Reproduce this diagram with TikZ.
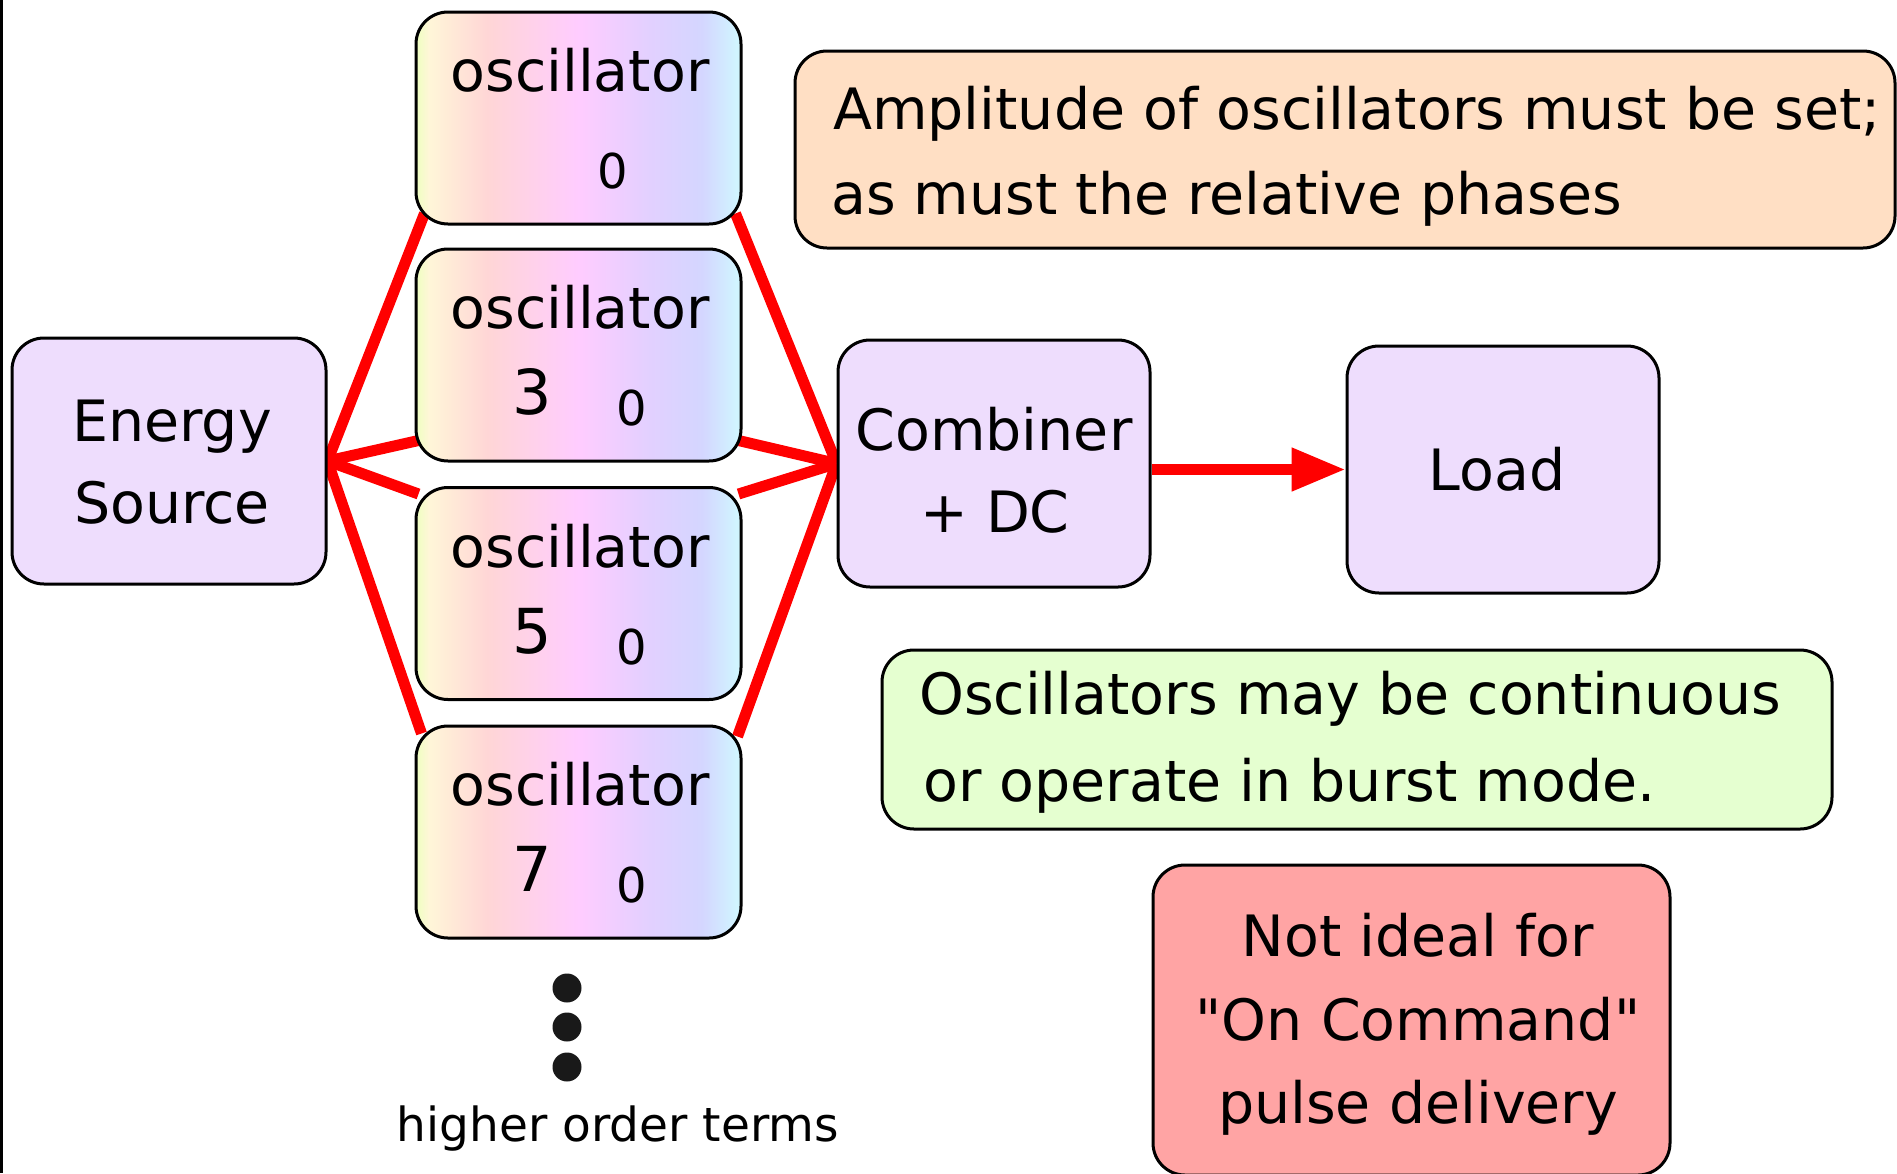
\documentclass[tikz,border=0pt]{standalone}
\usepackage{fontspec}
\setmainfont{DejaVu Sans}
\newfontfamily\straightq{DejaVu Sans}[Ligatures=TeXOff]
\usetikzlibrary{arrows.meta,backgrounds,calc}

% fills
\definecolor{lav}{HTML}{EEDDFD}
\definecolor{peach}{HTML}{FFDFC4}
\definecolor{mint}{HTML}{E5FFD0}
\definecolor{rose}{HTML}{FFA4A4}
\definecolor{linkred}{HTML}{FF0000}
% rainbow fill of the oscillator boxes
\definecolor{oscA}{HTML}{EEFFC0}
\definecolor{oscB}{HTML}{FFF6D8}
\definecolor{oscC}{HTML}{FFD6D6}
\definecolor{oscD}{HTML}{FFCCFF}
\definecolor{oscE}{HTML}{E2D0FF}
\definecolor{oscF}{HTML}{D4D6FF}
\definecolor{oscG}{HTML}{D0F8FF}
\pgfdeclarehorizontalshading{oscfill}{100bp}{%
  color(0bp)=(oscA); color(25bp)=(oscA); color(27bp)=(oscB);
  color(36bp)=(oscC); color(50bp)=(oscD); color(61bp)=(oscE);
  color(69bp)=(oscF); color(75bp)=(oscG); color(100bp)=(oscG)}

\tikzset{
  x=1pt, y=-1pt,
  panel/.style={draw=black, line width=3pt, rounded corners=32pt,
    inner sep=0pt, minimum width=#1},
  lavbox/.style={panel=312pt, fill=lav, minimum height=247pt},
  oscbox/.style={panel=325pt, shading=oscfill, minimum height=212pt},
  txt/.style={anchor=base, inner sep=0pt, font=\fontsize{57}{60}\selectfont},
  txtl/.style={txt, anchor=base west},
  digit/.style={anchor=base, inner sep=0pt, font=\fontsize{62}{64}\selectfont},
  sub/.style={anchor=base, inner sep=0pt, font=\fontsize{48}{50}\selectfont},
  small/.style={anchor=base, inner sep=0pt, font=\fontsize{47}{50}\selectfont},
  link/.style={draw=linkred, line width=11pt},
  dot/.style={circle, fill=black!90, inner sep=0pt, minimum size=29pt}
}

\begin{document}
\begin{tikzpicture}
\useasboundingbox (0,0) rectangle (1897,1173);
\draw[line width=3pt] (1.5,0) -- (1.5,1173);

% source, oscillator bank, combiner and load
\node[panel=314pt, fill=lav, minimum height=246pt] (src) at (169,461) {};
\node[oscbox] (o0) at (578.5,118) {};
\node[oscbox] (o3) at (578.5,355) {};
\node[oscbox] (o5) at (578.5,593.5) {};
\node[oscbox] (o7) at (578.5,832) {};
\node[lavbox] (comb) at (994,463.5) {};
\node[lavbox] (load) at (1503,469.5) {};

% box texts
\node[txt] (srcA) at (172,441) {Energy};
\node[txt] (srcB) at (172,523) {Source};
\foreach \o/\k in {o0/,o3/3,o5/5,o7/7}{
  \node[txt] (\o-name) at ($(\o.north)+(1.5,81)$) {oscillator};
  \node[digit] (\o-k) at ($(\o.north)+(-46,167)$) {\k};
}
\node[sub] (o0-z) at ($(o0.north)+(34,178)$) {0};
\node[sub] (o3-z) at ($(o3.north)+(53,178)$) {0};
\node[sub] (o5-z) at ($(o5.north)+(53,178)$) {0};
\node[sub] (o7-z) at ($(o7.north)+(53,178)$) {0};
\node[txt] (combA) at (994,450) {Combiner};
\node[txt] (combB) at (995,532) {+ DC};
\node[txt] (loadA) at (1497,490) {Load};

% connections behind the boxes
\begin{scope}[on background layer]
  \fill[white] (3,0) rectangle (1897,1173);
  \draw[link] (src.east) -- ($(o0.south west)+(10,-12)$);
  \draw[link] (src.east) -- ($(o3.south west)+(4,-22)$);
  \draw[link] (src.east) -- ($(o5.north west)+(4,8)$);
  \draw[link] (src.east) -- ($(o7.north west)+(7,9)$);
  \draw[link] (comb.west) -- ($(o0.south east)+(-7,-12)$);
  \draw[link] (comb.west) -- ($(o3.south east)+(-4,-22)$);
  \draw[link] (comb.west) -- ($(o5.north east)+(-4,8)$);
  \draw[link] (comb.west) -- ($(o7.north east)+(-5,12)$);
\end{scope}
\draw[link, -{Triangle[length=54pt,width=41pt]}] (comb.east |- load.west) -- (load.west);

% ellipsis for the remaining harmonics
\node[dot] (d1) at (567,988) {};
\node[dot] (d2) at (567,1027) {};
\node[dot] (d3) at (567,1067) {};
\node[small] (hot) at (618,1141) {higher order terms};

% remarks
\node[panel=1100pt, fill=peach, minimum height=197pt] (note1) at (1345,149.5) {};
\node[txtl] (note1a) at (833,129) {Amplitude of oscillators must be set;};
\node[txtl] (note1b) at (831,214) {as must the relative phases};

\node[panel=950pt, fill=mint, minimum height=179pt] (note2) at (1357,739.5) {};
\node[txtl] (note2a) at (919,714) {Oscillators may be continuous};
\node[txtl] (note2b) at (923,801) {or operate in burst mode.};

\node[panel=517pt, fill=rose, minimum height=310pt] (note3) at (1411.5,1020) {};
\node[txt] (note3a) at (1418,956) {Not ideal for};
\node[txt] (note3b) at (1418,1040) {\straightq "On Command"};
\node[txt] (note3c) at (1418,1123) {pulse delivery};
\end{tikzpicture}
\end{document}
